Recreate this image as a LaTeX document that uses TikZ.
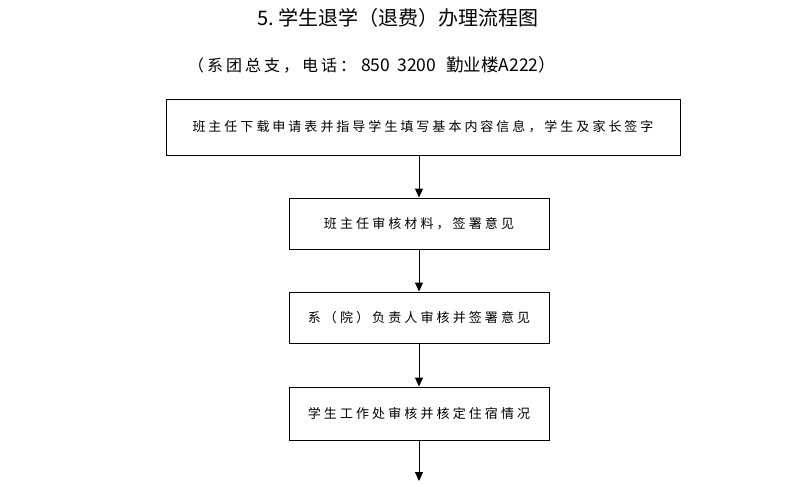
\documentclass[tikz,border=0pt]{standalone}
\usepackage{fontspec}
\setmainfont{Noto Sans CJK SC}
\usetikzlibrary{arrows.meta}
% spread the characters of #2 apart by #1
\newcommand\spread[2]{\def\spreadsep{\hspace{#1}}\spreadloop#2\relax\unskip}
\def\spreadloop#1{\ifx\relax#1\else#1\spreadsep\expandafter\spreadloop\fi}
\tikzset{
  stepbox/.style={draw, line width=1pt, inner sep=0pt, font=\fontsize{13pt}{16pt}\selectfont},
  flow/.style={-{Triangle[width=8pt,length=9pt]}, line width=1pt},
}
\begin{document}
\begin{tikzpicture}[x=1pt,y=-1pt]
  \useasboundingbox (0,0) rectangle (791,485);
  \node[font=\fontsize{20pt}{24pt}\selectfont] (title) at (398,18) {5.\hspace{4pt}学生退学（退费）办理流程图};
  \node[anchor=west, inner sep=0pt, font=\fontsize{16pt}{20pt}\selectfont] (contact) at (188,65)
    {\spread{3pt}{（系团总支，电话：}\hspace{5pt}{\fontsize{17.5pt}{20pt}\selectfont 850\hspace{7pt}3200\hspace{10pt}勤业楼A222）}};
  \node[stepbox, minimum width=514pt, minimum height=56pt] (apply) at (423,127)
    {\spread{3pt}{班主任下载申请表并指导学生填写基本内容信息，学生及家长签字}};
  \node[stepbox, minimum width=260pt, minimum height=51pt] (teacher) at (419,223.5) {\spread{3.1pt}{班主任审核材料，签署意见}};
  \node[stepbox, minimum width=260pt, minimum height=51pt] (dept) at (419,317.5) {\spread{3.1pt}{系（院）负责人审核并签署意见}};
  \node[stepbox, minimum width=260pt, minimum height=53pt] (office) at (419,413.5) {\spread{3.1pt}{学生工作处审核并核定住宿情况}};
  \coordinate (next) at (419,481);
  \draw[flow] (apply.south -| teacher.north) -- (teacher.north);
  \draw[flow] (teacher) -- (dept);
  \draw[flow] (dept) -- (office);
  \draw[flow] (office) -- (next);
\end{tikzpicture}
\end{document}
